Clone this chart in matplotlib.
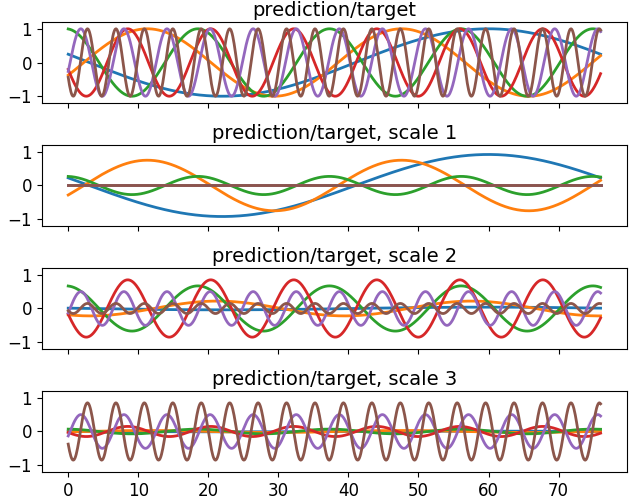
import numpy as np
import matplotlib
matplotlib.use("Agg")
import matplotlib.pyplot as plt

# components: period, peak location
periods = [76.0, 36.3, 18.8, 11.85, 6.15, 4.06]
peaks = [60.0, 11.3, 18.5, 8.5, 1.8, 2.75]
amp_target = [1, 1, 1, 1, 1, 1]
amp_scale1 = [0.92, 0.75, 0.27, 0.0, 0.0, 0.0]
amp_scale2 = [0.04, 0.22, 0.67, 0.85, 0.5, 0.15]
amp_scale3 = [0.01, 0.03, 0.07, 0.15, 0.5, 0.85]
phase_shift2 = [0, 10.0, 0, 0, 0, 0]
titles = ["prediction/target", "prediction/target, scale 1",
          "prediction/target, scale 2", "prediction/target, scale 3"]

plt.rcParams.update({"font.size": 12})
x = np.linspace(0, 76, 800)
fig, axes = plt.subplots(4, 1, figsize=(6.4, 5.01), dpi=100, sharex=True)
for ax, amps, t, sh in zip(axes, [amp_target, amp_scale1, amp_scale2, amp_scale3], titles,
                           [None, None, phase_shift2, None]):
    for i in range(6):
        s = sh[i] if sh else 0
        ax.plot(x, amps[i] * np.cos(2 * np.pi * (x - peaks[i] - s) / periods[i]), lw=2, color=f"C{i}")
    ax.set_title(t, fontsize=14, pad=4)
    ax.set_ylim(-1.2, 1.2)
    ax.set_yticks([-1, 0, 1])
axes[-1].set_xticks(range(0, 80, 10))
fig.subplots_adjust(left=0.065, right=0.98, top=0.956, bottom=0.058, hspace=0.52)
fig.savefig("out.png")
